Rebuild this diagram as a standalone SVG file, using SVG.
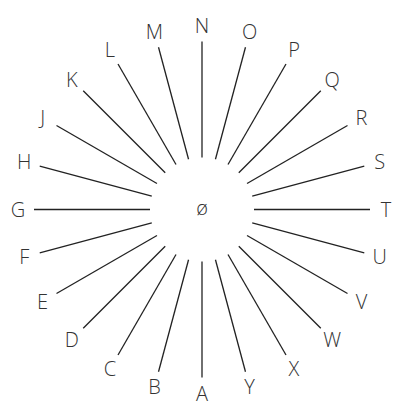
<svg xmlns="http://www.w3.org/2000/svg" width="398" height="416" viewBox="0 0 398 416">
<style>
text{font-family:"Open Sans","Noto Sans","DejaVu Sans",sans-serif;font-size:20px;font-weight:300;fill:#333;text-anchor:middle}
.c line{stroke:#222;stroke-width:1.3}
</style>
<rect width="398" height="416" fill="#fff"/>
<g id="connectors" class="c" transform="translate(202 209.5)">
<line x1="0" y1="52" x2="0" y2="168"/>
<line x1="0" y1="52" x2="0" y2="168" transform="rotate(15)"/>
<line x1="0" y1="52" x2="0" y2="168" transform="rotate(30)"/>
<line x1="0" y1="52" x2="0" y2="168" transform="rotate(45)"/>
<line x1="0" y1="52" x2="0" y2="168" transform="rotate(60)"/>
<line x1="0" y1="52" x2="0" y2="168" transform="rotate(75)"/>
<line x1="0" y1="52" x2="0" y2="168" transform="rotate(90)"/>
<line x1="0" y1="52" x2="0" y2="168" transform="rotate(105)"/>
<line x1="0" y1="52" x2="0" y2="168" transform="rotate(120)"/>
<line x1="0" y1="52" x2="0" y2="168" transform="rotate(135)"/>
<line x1="0" y1="52" x2="0" y2="168" transform="rotate(150)"/>
<line x1="0" y1="52" x2="0" y2="168" transform="rotate(165)"/>
<line x1="0" y1="52" x2="0" y2="168" transform="rotate(180)"/>
<line x1="0" y1="52" x2="0" y2="168" transform="rotate(195)"/>
<line x1="0" y1="52" x2="0" y2="168" transform="rotate(210)"/>
<line x1="0" y1="52" x2="0" y2="168" transform="rotate(225)"/>
<line x1="0" y1="52" x2="0" y2="168" transform="rotate(240)"/>
<line x1="0" y1="52" x2="0" y2="168" transform="rotate(255)"/>
<line x1="0" y1="52" x2="0" y2="168" transform="rotate(270)"/>
<line x1="0" y1="52" x2="0" y2="168" transform="rotate(285)"/>
<line x1="0" y1="52" x2="0" y2="168" transform="rotate(300)"/>
<line x1="0" y1="52" x2="0" y2="168" transform="rotate(315)"/>
<line x1="0" y1="52" x2="0" y2="168" transform="rotate(330)"/>
<line x1="0" y1="52" x2="0" y2="168" transform="rotate(345)"/>
</g>
<g id="center"><text x="202" y="215">ø</text></g>
<g id="A"><text x="202" y="400.6">A</text></g>
<g id="B"><text x="154.4" y="394.3">B</text></g>
<g id="C"><text x="110" y="376">C</text></g>
<g id="D"><text x="71.9" y="346.7">D</text></g>
<g id="E"><text x="42.6" y="308.6">E</text></g>
<g id="F"><text x="24.3" y="264.2">F</text></g>
<g id="G"><text x="18" y="216.6">G</text></g>
<g id="H"><text x="24.3" y="169">H</text></g>
<g id="J"><text x="42.6" y="124.6">J</text></g>
<g id="K"><text x="71.9" y="86.5">K</text></g>
<g id="L"><text x="110" y="57.3">L</text></g>
<g id="M"><text x="154.4" y="38.9">M</text></g>
<g id="N"><text x="202" y="32.6">N</text></g>
<g id="O"><text x="249.6" y="38.9">O</text></g>
<g id="P"><text x="294" y="57.3">P</text></g>
<g id="Q"><text x="332.1" y="86.5">Q</text></g>
<g id="R"><text x="361.4" y="124.6">R</text></g>
<g id="S"><text x="379.7" y="169">S</text></g>
<g id="T"><text x="386" y="216.6">T</text></g>
<g id="U"><text x="379.7" y="264.2">U</text></g>
<g id="V"><text x="361.4" y="308.6">V</text></g>
<g id="W"><text x="332.1" y="346.7">W</text></g>
<g id="X"><text x="294" y="376">X</text></g>
<g id="Y"><text x="249.6" y="394.3">Y</text></g>
</svg>
